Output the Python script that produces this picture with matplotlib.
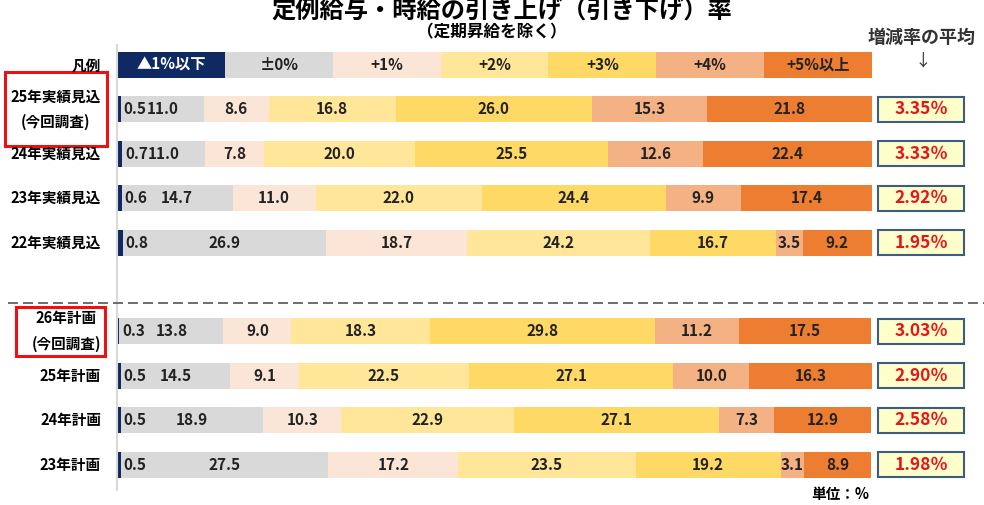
import numpy as np
import matplotlib
matplotlib.use("Agg")
from matplotlib import pyplot as plt
from matplotlib.patches import Rectangle
from matplotlib.lines import Line2D

plt.rcParams["font.family"] = ["Noto Sans CJK JP", "DejaVu Sans"]

# data
row_labels = ["25年実績見込\n(今回調査)", "24年実績見込", "23年実績見込", "22年実績見込",
              "26年計画\n(今回調査)", "25年計画", "24年計画", "23年計画"]
categories = ["▲1%以下", "±0%", "+1%", "+2%", "+3%", "+4%", "+5%以上"]
down1 = [0.5, 0.7, 0.6, 0.8, 0.3, 0.5, 0.5, 0.5]
zero = [11.0, 11.0, 14.7, 26.9, 13.8, 14.5, 18.9, 27.5]
up1 = [8.6, 7.8, 11.0, 18.7, 9.0, 9.1, 10.3, 17.2]
up2 = [16.8, 20.0, 22.0, 24.2, 18.3, 22.5, 22.9, 23.5]
up3 = [26.0, 25.5, 24.4, 16.7, 29.8, 27.1, 27.1, 19.2]
up4 = [15.3, 12.6, 9.9, 3.5, 11.2, 10.0, 7.3, 3.1]
up5 = [21.8, 22.4, 17.4, 9.2, 17.5, 16.3, 12.9, 8.9]
averages = [3.35, 3.33, 2.92, 1.95, 3.03, 2.90, 2.58, 1.98]

colors = ["#0F2A62", "#D9D9D9", "#FBE5D6", "#FFE699", "#FFD966", "#F4B183", "#ED7D31"]

W, H = 984, 505
def fx(px):
    return px / W
def fy(py):
    return 1 - py / H

fig = plt.figure(figsize=(9.84, 5.05), dpi=100)

ypos = np.array([1, 2, 3, 4, 6, 7, 8, 9])
ylim = ((490 - 65) / 44.4, (45 - 65) / 44.4)
bh = 0.585

ax = fig.add_axes([fx(117), fy(490), 755 / W, 445 / H])
ax.set_xlim(0, 100)
ax.set_ylim(*ylim)
for s in ["top", "right", "bottom"]:
    ax.spines[s].set_visible(False)
ax.spines["left"].set_color("#D9D9D9")
ax.spines["left"].set_linewidth(1.5)
ax.set_xticks([])
ax.set_yticks([])

# legend row
n = len(categories)
lw = 100 / n
ax.barh(0, [lw] * n, left=np.arange(n) * lw, height=bh, color=colors)
for i, c in enumerate(categories):
    ax.text(i * lw + lw / 2, 0, c, ha="center", va="center", fontsize=11,
            fontweight="bold", color="white" if i == 0 else "#222222")
fig.text(fx(101), fy(65), "凡例", ha="right", va="center", fontsize=10.5, fontweight="bold")

# stacked bars
series = [down1, zero, up1, up2, up3, up4, up5]
left = np.zeros(len(ypos))
for k, vals in enumerate(series):
    vals = np.array(vals)
    ax.barh(ypos, vals, left=left, height=bh, color=colors[k])
    for y, l, v in zip(ypos, left, vals):
        if k == 0:
            ax.text(l + v + 0.35, y, f"{v:.1f}", ha="left", va="center",
                    fontsize=11, fontweight="bold", color="#222222")
        else:
            ax.text(l + v / 2, y, f"{v:.1f}", ha="center", va="center",
                    fontsize=11, fontweight="bold", color="#222222")
    left += vals

# row labels
for y, lab in zip(ypos, row_labels):
    py = 65 + y * 44.4
    fig.text(fx(101), fy(py), lab, ha="right", va="center", multialignment="center",
             fontsize=10.5, fontweight="bold", linespacing=1.75)

# red highlight boxes
for x0, y0, x1, y1 in [(5, 72, 107, 146), (16, 307, 105, 356)]:
    fig.patches.append(Rectangle((fx(x0), fy(y1)), fx(x1 - x0), (y1 - y0) / H,
                                 transform=fig.transFigure, fill=False,
                                 edgecolor="#EE1111", linewidth=2.2))

# average boxes
ax2 = fig.add_axes([fx(878), fy(490), 86 / W, 445 / H])
ax2.set_xlim(0, 1)
ax2.set_ylim(*ylim)
ax2.axis("off")
ax2.barh(ypos, 1, height=0.56, color="#FFFFCC", edgecolor="#3E5C7C", linewidth=1.5,
         clip_on=False)
for y, a in zip(ypos, averages):
    ax2.text(0.5, y, f"{a:.2f}％", ha="center", va="center", fontsize=12.5,
             fontweight="bold", color="#E8141B")

# dashed separator
fig.lines.append(Line2D([fx(8), fx(984)], [fy(303), fy(303)], transform=fig.transFigure,
                        color="#555555", linewidth=1.2, linestyle=(0, (6, 3))))

# titles and notes
fig.text(fx(502), fy(12), "定例給与・時給の引き上げ（引き下げ）率", ha="center", va="center",
         fontsize=17.5, fontweight="bold")
fig.text(fx(492), fy(32), "（定期昇給を除く）", ha="center", va="center",
         fontsize=12, fontweight="bold")
fig.text(fx(922), fy(37), "増減率の平均", ha="center", va="center", fontsize=13,
         fontweight="bold", color="#333333")
fig.text(fx(923), fy(61), "↓", ha="center", va="center", fontsize=12, color="#333333")
fig.text(fx(840), fy(494), "単位：%", ha="center", va="center", fontsize=10.5,
         fontweight="bold")

fig.savefig("out.png", dpi=100)
